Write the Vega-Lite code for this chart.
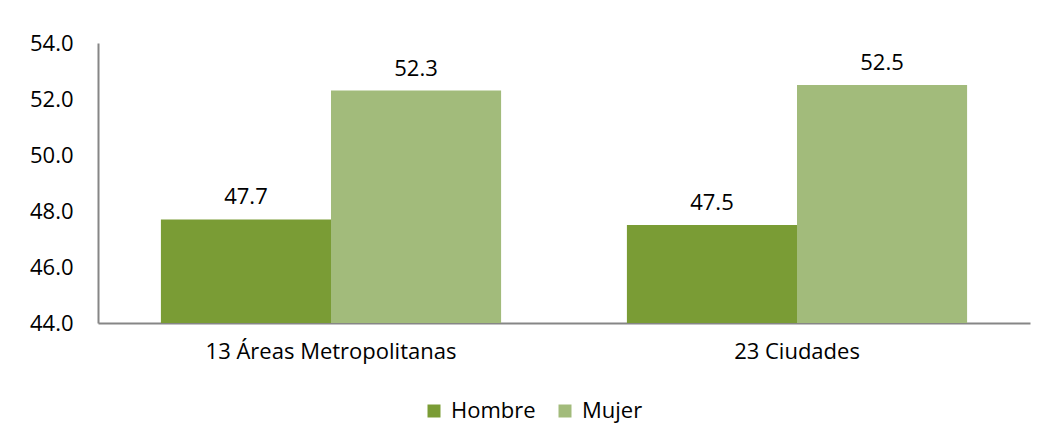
{
  "$schema": "https://vega.github.io/schema/vega-lite/v6.json",
  "width": 932,
  "height": 280,
  "autosize": {"type": "none"},
  "padding": {"left": 98, "top": 43, "right": 13, "bottom": 121},
  "background": "white",
  "data": {"values": [
    {"grupo": "13 Áreas Metropolitanas", "sexo": "Hombre", "valor": 47.7},
    {"grupo": "13 Áreas Metropolitanas", "sexo": "Mujer", "valor": 52.3},
    {"grupo": "23 Ciudades", "sexo": "Hombre", "valor": 47.5},
    {"grupo": "23 Ciudades", "sexo": "Mujer", "valor": 52.5}
  ]},
  "encoding": {
    "x": {"field": "grupo", "type": "nominal", "sort": null,
      "scale": {"paddingInner": 0.27, "paddingOuter": 0.135},
      "axis": {"title": null, "labelAngle": 0, "ticks": false, "labelPadding": 18, "labelLimit": 0, "labelFontSize": 22, "labelFont": "Open Sans", "labelColor": "#000000", "domainColor": "#868686", "domainWidth": 2}},
    "xOffset": {"field": "sexo", "type": "nominal", "sort": ["Hombre", "Mujer"], "scale": {"paddingInner": 0, "paddingOuter": 0}},
    "y": {"field": "valor", "type": "quantitative",
      "scale": {"domain": [44, 54], "zero": false, "nice": false},
      "axis": {"title": null, "values": [44, 46, 48, 50, 52, 54], "format": ".1f", "ticks": false, "grid": false, "labelPadding": 25, "labelFontSize": 22, "labelFont": "Open Sans", "labelColor": "#000000", "domainColor": "#868686", "domainWidth": 2}}
  },
  "layer": [
    {
      "mark": {"type": "bar", "clip": true},
      "encoding": {
        "color": {"field": "sexo", "type": "nominal", "sort": ["Hombre", "Mujer"],
          "scale": {"domain": ["Hombre", "Mujer"], "range": ["#7A9C35", "#A2BB7B"]},
          "legend": {"title": null, "orient": "none", "legendX": 325, "legendY": 357, "direction": "horizontal", "symbolType": "square", "symbolSize": 169, "labelFontSize": 22, "labelFont": "Open Sans", "labelColor": "#000000", "labelOffset": 6, "columnPadding": 18, "symbolStrokeWidth": 0}}
      }
    },
    {
      "mark": {"type": "text", "align": "center", "baseline": "alphabetic", "dy": -15, "fontSize": 22, "font": "Open Sans", "color": "#000000"},
      "encoding": {"text": {"field": "valor", "type": "quantitative", "format": ".1f"}}
    }
  ],
  "config": {"view": {"stroke": null}}
}
